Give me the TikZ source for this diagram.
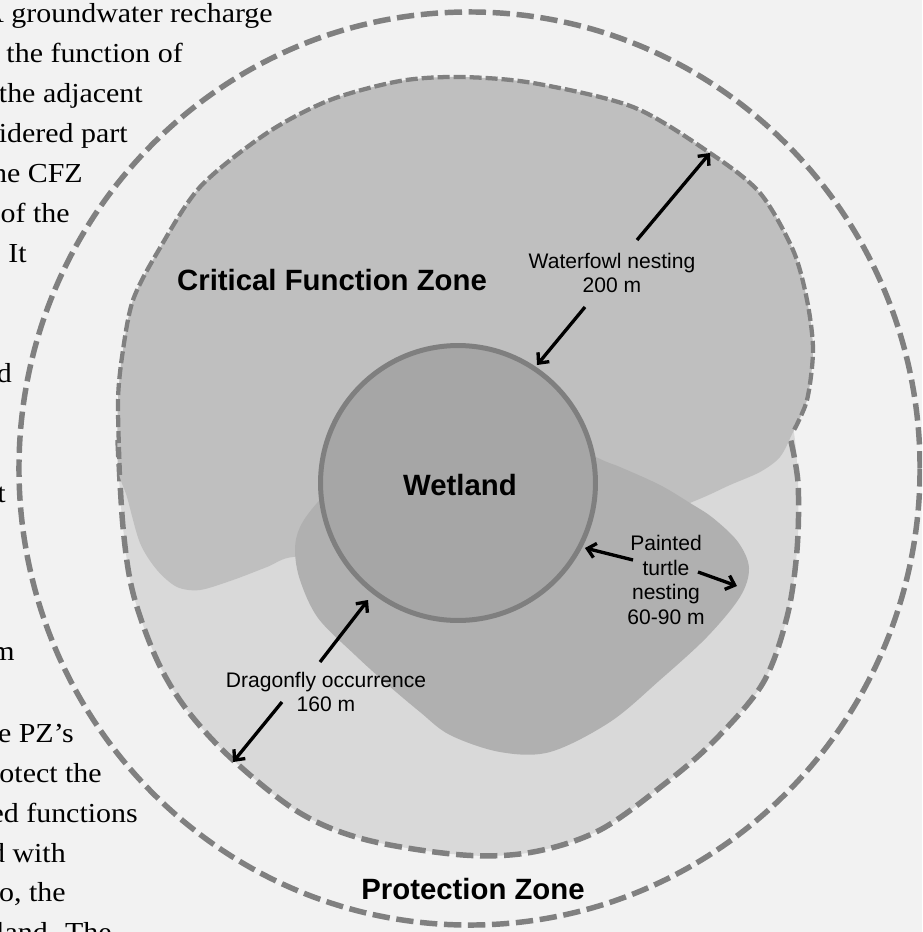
\documentclass[tikz,border=0pt]{standalone}
\usepackage{fontspec}
\setmainfont{Liberation Serif}
\newfontfamily\labelfont{Liberation Sans}
\newfontfamily\bodyfont[FakeStretch=1.09]{Liberation Serif}
\usepackage{tikz}
\usetikzlibrary{arrows.meta}
\usepackage{xcolor}
\definecolor{bggray}{HTML}{F2F2F2}
\definecolor{dfgray}{HTML}{D9D9D9}
\definecolor{wfgray}{HTML}{BFBFBF}
\definecolor{ttgray}{HTML}{B0B0B0}
\definecolor{wetfill}{HTML}{A6A6A6}
\definecolor{wetedge}{HTML}{7F7F7F}
\definecolor{dashgray}{HTML}{808080}
\tikzset{
  zonedash/.style={draw=dashgray,line width=4.1pt,dash pattern=on 13pt off 5pt},
  wfdash/.style={draw=dashgray,line width=3.2pt,dash pattern=on 9pt off 3pt},
  dist/.style={line width=2.5pt,-{Straight Barb[length=6pt,width=11pt]}},
  distlabel/.style={font=\labelfont\fontsize{15.8}{18.5}\selectfont,align=center,inner sep=0pt},
  zonelabel/.style={font=\labelfont\bfseries\fontsize{22}{26}\selectfont,inner sep=0pt,anchor=base},
  bodyline/.style={font=\bodyfont\fontsize{20.6}{30}\selectfont,anchor=base east,inner sep=0pt}
}

\begin{document}
\begin{tikzpicture}[x=0.75pt,y=-0.75pt]
        \useasboundingbox (0,0) rectangle (922,932);
        \clip (0,0) rectangle (922,932);
        \fill[bggray] (0,0) rectangle (922,932);
        %Protection zone
        \draw[zonedash] (469.5,468.5) ellipse [x radius=337.9pt,y radius=342.4pt];
        %Dragonfly 160 m
        \fill[dfgray] plot[smooth cycle,tension=.55] coordinates {(460,150) (600,165) (710,220) (770,320) (792,420) (798,483) (797,550) (787,617) (763,683) (715,740) (667,782) (600,830) (533,852) (463,855) (367,840) (300,813) (233,760) (187,710) (157,660) (133,593) (123,527) (119,460) (125,380) (160,290) (230,210) (330,165)};
        \draw[zonedash] plot[smooth,tension=.55] coordinates {(118,440) (123,527) (133,593) (157,660) (187,710) (233,760) (300,813) (367,840) (463,855) (533,852) (600,830) (667,782) (715,740) (763,683) (787,617) (797,550) (798,483) (790,437)};
        %Waterfowl 200 m
        \fill[wfgray] plot[smooth cycle,tension=.5] coordinates {(118,467) (118,400) (123,350) (133,300) (157,253) (200,187) (267,133) (330,100) (400,81) (460,77) (533,83) (633,107) (710,153) (760,193) (793,250) (807,300) (813,350) (807,400) (793,432) (780,457) (760,472) (730,485) (697,500) (620,530) (480,560) (350,560) (293,557) (267,567) (233,580) (200,590) (177,587) (157,570) (140,543) (127,497)};
        \draw[wfdash] plot[smooth,tension=.5] coordinates {(120,475) (118,400) (123,350) (133,300) (157,253) (200,187) (267,133) (330,100) (400,81) (460,77) (533,83) (633,107) (710,153) (760,193) (793,250) (807,300) (813,350) (807,400) (793,432)};
        %Painted turtle 60-90 m
        \fill[ttgray] plot[smooth cycle,tension=.55] coordinates {(350,470) (420,420) (520,420) (598,458) (620,467) (660,485) (690,503) (713,518) (738,542) (749,568) (740,597) (707,637) (660,680) (610,722) (550,752) (500,752) (450,735) (420,712) (388,685) (355,655) (318,618) (300,580) (295,550) (300,527) (317,503)};
        %Wetland
        \draw[draw=wetedge,fill=wetfill,line width=3.75pt] (458,483) circle [radius=103.1pt];

        \node[zonelabel] (cfz) at (332,290) {Critical Function Zone};
        \node[zonelabel] (wet) at (460,495) {Wetland};
        \node[zonelabel] (pz) at (473,899) {Protection Zone};

        %%%%%%%%%%%%%%% distances %%%%%%%%%%%%%%%
        \node[distlabel] (wflabel) at (612,273) {Waterfowl nesting\\200 m};
        \node[distlabel] (ttlabel) at (666,580) {Painted\\turtle\\nesting\\60-90 m};
        \node[distlabel] (dflabel) at (326,692) {Dragonfly occurrence\\160 m};
        \coordinate (wfA) at (637,240); \coordinate (wfB) at (710,153);
        \coordinate (wfC) at (585,307); \coordinate (wfD) at (537,365);
        \coordinate (ttA) at (633,560); \coordinate (ttB) at (585,548);
        \coordinate (ttC) at (698,572); \coordinate (ttD) at (737,586);
        \coordinate (dfA) at (320,662); \coordinate (dfB) at (368,600);
        \coordinate (dfC) at (282,702); \coordinate (dfD) at (233,762);
        \draw[dist] (wfA) -- (wfB);
        \draw[dist] (wfC) -- (wfD);
        \draw[dist] (ttA) -- (ttB);
        \draw[dist] (ttC) -- (ttD);
        \draw[dist] (dfA) -- (dfB);
        \draw[dist] (dfC) -- (dfD);

        %page text (cut at the left)
        \path (273,22)node[bodyline](t1){A groundwater recharge} (183,62)node[bodyline](t2){r the function of}
              (143,102)node[bodyline](t3){the adjacent} (128,142)node[bodyline](t4){idered part}
              (83,182)node[bodyline](t5){he CFZ} (70,222)node[bodyline](t6){of the} (27,262)node[bodyline](t7){. It}
              (12,382)node[bodyline](t8){d} (6,502)node[bodyline](t9){t} (15,660)node[bodyline](t10){m};
        \path (74,742)node[bodyline](t11){he PZ’s} (102,782)node[bodyline](t12){rotect the}
              (138,822)node[bodyline](t13){ed functions} (66,862)node[bodyline](t14){d with}
              (66,901)node[bodyline](t15){to, the} (112,941)node[bodyline](t16){land. The};
\end{tikzpicture}
\end{document}
